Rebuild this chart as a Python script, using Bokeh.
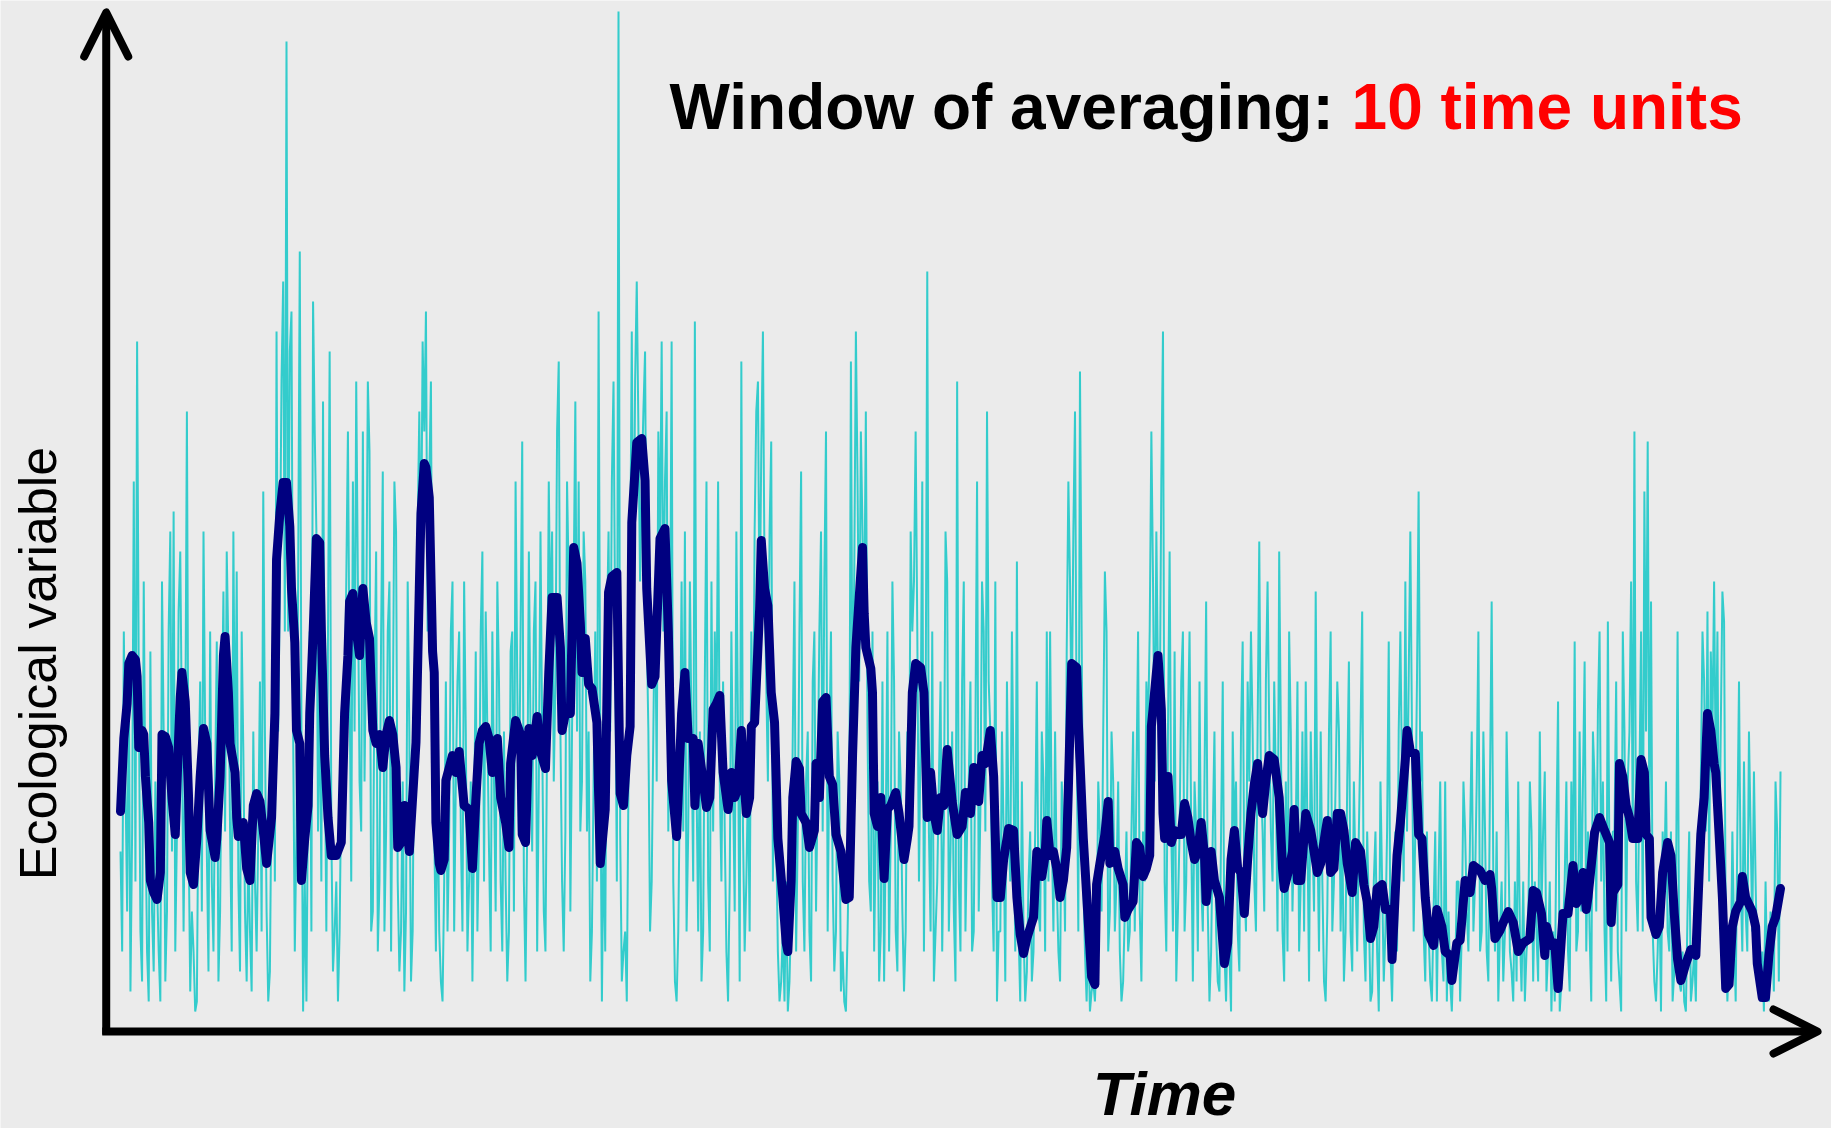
import numpy as np
from bokeh.plotting import figure
from bokeh.models import ColumnDataSource, Range1d, Arrow, OpenHead, Label
from bokeh.embed import file_html
from bokeh.resources import INLINE

# ---------------- data ----------------
# raw series, read at even time steps
raw_even_time = list(range(0, 1001, 2))
raw_even_values = [
    18, 40, 12, 4, 55, 69, 10, 45, 8, 38,
    6, 15, 3, 30, 12, 50, 52, 20, 48, 10,
    62, 4, 8, 3, 35, 50, 18, 40, 8, 39,
    12, 44, 48, 20, 50, 46, 6, 28, 5, 10,
    30, 8, 35, 54, 12, 6, 40, 70, 45, 75,
    99, 68, 30, 20, 78, 2, 3, 40, 73, 50,
    35, 63, 10, 68, 6, 15, 10, 20, 45, 35,
    55, 65, 25, 60, 40, 58, 12, 48, 15, 56,
    20, 45, 30, 50, 6, 25, 12, 30, 10, 40,
    62, 69, 72, 55, 30, 8, 10, 3, 35, 20,
    45, 25, 40, 10, 30, 15, 5, 38, 20, 48,
    42, 18, 40, 12, 35, 8, 15, 10, 40, 55,
    20, 59, 5, 48, 18, 45, 25, 30, 8, 55,
    50, 35, 67, 15, 20, 45, 30, 63, 55, 25,
    45, 30, 10, 40, 72, 3, 8, 50, 55, 40,
    102, 5, 10, 25, 70, 65, 60, 55, 68, 30,
    15, 45, 60, 69, 55, 20, 69, 5, 10, 45,
    50, 20, 30, 71, 10, 5, 35, 15, 45, 40,
    55, 15, 20, 3, 40, 12, 30, 67, 8, 25,
    40, 50, 65, 58, 45, 25, 59, 30, 8, 5,
    3, 2, 12, 45, 20, 56, 8, 30, 5, 40,
    25, 50, 45, 10, 40, 6, 30, 4, 3, 10,
    67, 45, 55, 60, 40, 30, 12, 8, 25, 10,
    5, 40, 20, 35, 6, 25, 4, 30, 50, 45,
    40, 30, 8, 76, 10, 5, 15, 35, 20, 45,
    18, 12, 65, 8, 45, 20, 35, 10, 55, 22,
    40, 62, 30, 8, 3, 10, 20, 35, 15, 25,
    47, 3, 10, 6, 20, 8, 35, 10, 25, 40,
    40, 10, 15, 5, 20, 38, 45, 50, 30, 66,
    15, 3, 2, 5, 8, 20, 30, 40, 12, 25,
    15, 8, 5, 20, 10, 30, 25, 12, 20, 35,
    40, 45, 50, 30, 70, 8, 48, 10, 5, 20,
    40, 15, 40, 5, 20, 35, 10, 43, 3, 20,
    10, 4, 35, 3, 8, 30, 25, 6, 39, 10,
    25, 30, 10, 49, 20, 35, 30, 15, 25, 48,
    10, 25, 40, 12, 20, 8, 30, 35, 5, 20,
    44, 8, 15, 3, 30, 10, 25, 30, 20, 10,
    37, 6, 15, 20, 42, 5, 12, 4, 20, 2,
    15, 10, 39, 3, 20, 30, 25, 45, 35, 30,
    20, 54, 30, 5, 10, 3, 20, 15, 8, 25,
    12, 2, 5, 15, 10, 20, 8, 30, 15, 40,
    10, 20, 5, 43, 8, 3, 15, 10, 20, 6,
    15, 25, 4, 3, 10, 20, 15, 5, 12, 26,
    8, 2, 3, 33, 5, 15, 8, 25, 39, 10,
    12, 37, 20, 3, 25, 32, 15, 10, 41, 5,
    20, 8, 2, 30, 25, 45, 60, 10, 40, 54,
    59, 43, 5, 8, 2, 15, 10, 20, 6, 40,
    4, 3, 12, 3, 8, 15, 25, 35, 42, 38,
    45, 40, 30, 41, 3, 5, 10, 20, 15, 27,
    8, 20, 26, 6, 3, 2, 5, 12, 4, 20, 26,
]
# raw series, read at odd time steps
raw_odd_time = list(range(1, 1000, 2))
raw_odd_values = [
    8, 25, 35, 20, 15, 35, 5, 22, 3, 12,
    25, 8, 45, 5, 40, 18, 8, 42, 30, 28,
    20, 12, 2, 25, 12, 30, 6, 15, 25, 5,
    30, 20, 38, 8, 25, 15, 40, 12, 18, 4,
    15, 20, 10, 30, 3, 25, 15, 30, 65, 40,
    40, 72, 8, 45, 30, 15, 25, 10, 60, 20,
    15, 30, 40, 20, 10, 3, 25, 30, 60, 15,
    30, 45, 20, 25, 65, 10, 35, 8, 40, 10,
    40, 8, 55, 15, 10, 4, 45, 5, 35, 50,
    45, 60, 40, 65, 20, 25, 5, 15, 10, 40,
    10, 35, 20, 45, 8, 25, 20, 10, 40, 15,
    30, 8, 25, 45, 15, 30, 5, 38, 12, 35,
    40, 15, 20, 30, 40, 8, 50, 12, 30, 40,
    25, 60, 30, 8, 55, 12, 45, 30, 20, 50,
    20, 5, 25, 15, 30, 20, 40, 30, 65, 15,
    20, 8, 3, 45, 40, 75, 45, 62, 40, 10,
    30, 25, 48, 40, 62, 35, 15, 3, 25, 20,
    10, 45, 15, 25, 30, 10, 55, 8, 20, 30,
    25, 35, 8, 15, 25, 50, 5, 20, 15, 10,
    25, 62, 40, 70, 35, 50, 15, 20, 3, 10,
    15, 5, 30, 8, 40, 15, 25, 10, 35, 12,
    40, 20, 60, 28, 15, 10, 25, 8, 2, 20,
    30, 70, 35, 50, 62, 15, 40, 20, 5, 35,
    20, 8, 45, 10, 30, 12, 10, 20, 40, 60,
    15, 55, 30, 20, 40, 10, 25, 8, 50, 10,
    30, 5, 15, 35, 10, 25, 8, 30, 12, 45,
    20, 35, 15, 45, 10, 30, 5, 20, 40, 8,
    10, 25, 3, 15, 5, 20, 12, 30, 8, 15,
    20, 30, 8, 25, 10, 55, 30, 62, 10, 40,
    8, 10, 4, 3, 25, 12, 46, 8, 30, 10,
    25, 3, 12, 8, 20, 10, 40, 5, 15, 30,
    60, 25, 35, 55, 15, 30, 20, 38, 12, 35,
    10, 30, 20, 25, 8, 15, 25, 12, 8, 30,
    5, 20, 8, 12, 2, 20, 10, 30, 15, 35,
    40, 15, 30, 25, 12, 45, 20, 35, 10, 30,
    5, 8, 30, 20, 35, 15, 10, 20, 30, 12,
    20, 30, 5, 12, 40, 15, 35, 10, 5, 25,
    10, 25, 8, 30, 10, 20, 3, 15, 8, 25,
    5, 20, 8, 12, 8, 40, 15, 20, 50, 10,
    35, 25, 10, 20, 5, 12, 3, 25, 5, 3,
    5, 8, 15, 3, 25, 12, 20, 10, 25, 8,
    30, 8, 25, 15, 20, 10, 5, 30, 8, 3,
    5, 10, 15, 8, 25, 5, 10, 30, 20, 4,
    15, 10, 20, 2, 10, 25, 4, 15, 8, 30,
    25, 8, 10, 30, 12, 40, 25, 3, 15, 20,
    35, 5, 40, 10, 30, 20, 15, 25, 10, 30,
    20, 10, 3, 15, 20, 25, 8, 3, 12, 5,
    8, 2, 20, 5, 3, 10, 40, 20, 15, 30,
    25, 15, 44, 10, 8, 20, 3, 35, 8, 12,
    30, 10, 15, 4, 8, 15, 3, 10, 25, 5,
]

# moving average (window 10)
smooth_time = [
    0, 2, 4, 5, 7, 9, 10, 11, 13, 14, 15, 17, 18, 20, 22, 24, 25, 27, 29, 31, 33, 35, 36, 37, 39,
    41, 42, 44, 46, 48, 50, 52, 54, 57, 58, 60, 62, 63, 65, 66, 69, 70, 71, 74, 76, 78, 80, 82, 84,
    86, 88, 91, 93, 94, 96, 98, 100, 102, 103, 105, 106, 108, 109, 111, 113, 114, 116, 118, 120,
    121, 123, 125, 127, 130, 133, 135, 137, 138, 140, 142, 144, 146, 148, 150, 152, 154, 156, 158,
    160, 162, 164, 166, 167,
    169, 171, 174, 178, 180, 181, 183, 184, 186, 188, 189, 190, 192, 193, 195, 196, 200, 202, 204,
    207, 210, 212, 214, 216, 218, 220, 222, 224, 227, 229, 232, 234, 235, 238, 241, 242, 244, 246,
    248, 251, 253, 256, 258, 260, 263, 265, 266, 268, 271, 273, 275, 277, 278, 280, 282, 284, 287,
    289, 292, 294, 296, 299, 301, 303, 305, 307, 308, 311, 314, 316, 317, 320, 322, 325, 328, 330,
    332, 335, 338, 340, 342, 345, 346, 348,
    353, 355, 357, 359, 361, 363, 366, 368, 370, 372, 374, 375, 377, 379, 380, 382, 385, 386, 388,
    390, 392, 394, 396, 399, 401, 402, 404, 405, 407, 409, 410, 413, 415, 418, 419, 421, 423, 425,
    427, 429, 431, 434, 437, 439, 441, 443, 445, 447, 448, 449, 452, 453, 454, 456, 458, 460, 462,
    464, 467, 469, 472, 474, 475, 477, 479, 482, 484, 486, 488, 490, 492, 494, 496, 498, 501, 504,
    507, 509, 512, 514, 517, 519, 521, 524, 526, 528,
    530, 532, 535, 538, 540, 542, 544, 546, 549, 550, 552, 555, 557, 558, 560, 562, 564, 566, 568,
    570, 571, 573, 576, 577, 580, 583, 585, 587, 588, 590, 593, 595, 596, 599, 601, 604, 605, 607,
    610, 612, 614, 616, 618, 620, 621, 622, 625, 627, 628, 629, 631, 633, 635, 637, 639, 641, 643,
    645, 647, 649, 651, 653, 654, 657, 659, 662, 665, 667, 669, 671, 673, 675, 677, 679, 681, 683,
    685, 688, 690, 692, 695, 698, 700, 701, 704, 706, 707, 709,
    711, 714, 717, 719, 721, 723, 726, 727, 729, 731, 733, 735, 737, 739, 742, 744, 747, 749, 751,
    753, 755, 757, 760, 762, 765, 766, 769, 771, 774, 775, 777, 780, 782, 784, 786, 788, 791, 793,
    796, 798, 801, 802, 805, 807, 810, 813, 815, 819, 822, 825, 826, 828, 831, 833, 836, 839, 842,
    845, 849, 851, 853, 856, 858, 859, 862, 864, 866, 869, 872, 875, 877, 879, 881, 883, 884,
    888, 891, 894, 897, 898, 899, 902, 903, 905, 907, 909, 911, 914, 916, 918, 919, 921, 922, 925,
    927, 929, 932, 934, 936, 938, 940, 943, 946, 949, 951, 952, 954, 956, 958, 960, 961, 963, 965,
    967, 969, 971, 973, 976, 977, 979, 983, 985, 986, 989, 991, 993, 995, 997, 1000,
]
smooth_values = [
    22.0, 29.3, 32.8, 36.8, 37.6, 37.2, 35.5, 28.4, 30.1, 29.7, 25.5, 20.9, 15.1, 13.9, 13.2, 15.9,
    29.7, 29.5, 28.4, 23.4, 19.7, 29.3, 33.4, 35.9, 33.0,
    23.4, 15.9, 14.7, 19.3, 25.5, 30.3, 28.8, 20.1, 17.4, 19.3, 25.5, 37.6, 39.5, 33.9, 28.8, 25.9,
    21.4, 19.5, 20.9, 16.3, 15.1, 22.6, 23.8, 23.0,
    20.1, 16.8, 21.4, 31.8, 47.2, 51.8, 54.9, 54.9, 50.5, 44.3, 38.9, 30.1, 28.8, 15.1, 19.3, 22.6,
    31.8, 39.7, 49.3, 48.9,
    40.1, 27.6, 21.4, 17.6, 17.6, 18.9, 31.8, 37.6, 43.0, 43.8, 40.1, 37.6, 44.3, 40.9, 39.3, 30.1,
    28.8, 29.7, 26.4,
    29.7, 31.1, 29.7, 26.4, 18.4,
    18.9, 22.6, 18.0, 28.9, 44.3, 51.8, 56.8, 56.4, 53.4, 38.0, 35.9, 20.9, 16.8, 16.1, 17.2, 25.1,
    27.6, 25.9, 28.0,
    22.6, 22.2, 16.3, 23.0, 28.8, 30.1, 30.5, 29.3, 25.9, 29.3, 23.4, 20.9, 18.4, 26.8, 31.1, 29.7,
    19.7, 18.9, 30.3,
    27.6, 31.5, 28.0, 26.3, 35.9, 43.4, 43.4, 38.4, 30.1, 31.8, 31.8, 48.4, 46.8, 40.9, 35.9, 39.3,
    34.7, 34.3, 30.9,
    16.8, 22.2, 43.9, 45.5, 45.9, 23.8, 22.6, 27.6, 30.5, 50.9, 58.9, 59.3, 55.1, 44.3, 34.7, 35.5,
    49.3, 50.3, 40.1,
    25.1, 19.5, 31.8, 35.9, 29.3, 29.3, 22.6, 28.8,
    22.4, 23.4, 32.2, 32.8, 33.6, 25.9, 22.2, 25.9, 23.4, 24.3, 30.1, 26.8, 21.8, 23.4, 30.5, 30.9,
    42.2, 49.1, 44.3,
    42.6, 33.9, 30.9, 19.3, 13.4, 8.85, 8.0, 15.1, 23.4, 27.0, 26.3, 21.8, 20.9, 18.4, 20.1, 26.8,
    23.4, 33.0, 33.4,
    25.5, 24.7, 19.7, 18.0, 13.2, 13.4, 27.6, 38.4, 43.4, 48.4, 41.8, 38.4, 36.3, 33.9, 21.8, 20.5,
    23.4, 15.3, 22.2,
    22.6, 23.9, 21.8, 17.2, 19.3, 20.5, 33.9, 36.8, 36.4, 33.9, 21.4, 25.9, 21.8, 20.1, 23.4, 22.6,
    28.2, 23.0, 19.7,
    20.5, 23.9, 21.8, 26.4, 23.0, 27.6, 26.8, 30.1, 25.5, 13.4,
    13.4, 17.2, 20.3, 20.1, 13.4, 9.7, 7.8, 9.3, 10.9, 11.4, 18.0, 15.5, 17.6, 21.1, 17.6, 18.0,
    16.3, 13.4, 15.1,
    18.4, 24.3, 36.8, 36.4, 30.9, 19.3, 10.9, 5.5, 4.7, 14.7, 16.8, 19.7, 23.0, 16.8, 18.0, 16.3,
    14.7, 11.4, 12.2,
    13.0, 18.9, 18.4, 15.5, 16.3, 17.6, 30.5, 32.2, 37.6, 32.2, 21.8, 19.3, 25.5, 18.9, 20.1, 19.7,
    19.7, 22.8, 21.4,
    18.9, 17.2, 18.0, 20.9, 17.6, 13.0, 18.0, 15.1, 13.4, 6.8, 8.85, 17.2, 20.1, 16.3, 15.9, 11.8,
    17.2, 21.8, 24.7,
    26.8, 21.8, 25.1, 27.6, 27.2, 23.4, 16.3, 14.3, 16.3, 18.0, 22.2, 15.1,
    15.1, 21.8, 20.1, 18.0, 15.9, 16.8, 20.1, 21.1, 15.9, 16.3, 21.8, 21.8, 20.1, 16.8, 13.9, 18.9,
    18.0, 14.7, 13.0,
    9.3, 10.5, 14.3, 14.7, 12.2, 12.2, 7.2, 17.6, 20.9, 27.2, 30.1, 28.0, 27.8, 19.7, 19.3, 13.4,
    9.7, 8.6, 12.2,
    10.5, 8.0, 7.6, 5.1, 8.85, 9.1, 15.1, 13.9, 16.6, 16.1, 15.1, 15.7, 14.3, 9.3, 10.1, 10.9, 12.0,
    10.9, 8.0,
    8.85, 9.3, 14.1, 13.9, 11.8, 7.6, 10.5, 8.6, 8.85, 4.3, 11.8, 11.8, 16.6, 12.8, 13.4, 15.9, 12.2,
    13.4,
    19.9, 21.4, 20.1, 18.9, 10.9, 13.9, 14.7, 26.8, 25.5, 22.6, 21.4, 19.3, 19.3, 27.2, 25.9, 19.7,
    19.3, 11.4, 9.7,
    10.5, 15.9, 18.9, 17.6, 11.8, 7.2, 5.1, 6.8, 8.2, 7.6, 15.9, 19.7, 23.4, 31.8, 30.1, 26.8, 25.9,
    19.7, 13.4,
    4.3, 4.7, 10.5, 12.0, 13.0, 15.5, 13.4, 12.0, 10.5, 6.8, 3.4, 3.4, 7.6, 10.5, 11.4, 14.3,
]

title_black = "Window of averaging:"
title_red = "10 time units"
x_label = "Time"
y_label = "Ecological variable"

assert len(raw_even_time) == len(raw_even_values)
assert len(raw_odd_time) == len(raw_odd_values)
assert len(smooth_time) == len(smooth_values)

# merge the two hand-read raw lists into one time-ordered series
raw_pairs = sorted(zip(raw_even_time + raw_odd_time, raw_even_values + raw_odd_values))
raw_time = [a for a, b in raw_pairs]
raw_values = [b for a, b in raw_pairs]

# ---------------- figure ----------------
BG = "#EBEBEB"
p = figure(width=1831, height=1128, output_backend="svg", toolbar_location=None,
           x_range=Range1d(-72.29, 1030.72), y_range=Range1d(-9.7, 103.1),
           min_border=0, background_fill_color=BG, border_fill_color=BG,
           outline_line_color=None)
p.axis.visible = False
p.grid.visible = False

raw_src = ColumnDataSource(dict(t=raw_time, v=raw_values))
sm_src = ColumnDataSource(dict(t=smooth_time, v=smooth_values))

p.line("t", "v", source=raw_src, line_color="#33CCCC", line_width=2)
p.line("t", "v", source=sm_src, line_color="#000080", line_width=9,
       line_join="round", line_cap="round")

# axes drawn as arrows
x0 = -8.6
p.add_layout(Arrow(x_start=x0, y_start=-0.3, x_end=x0, y_end=101.9,
                   line_color="black", line_width=8,
                   end=OpenHead(size=44, line_width=8, line_color="black",
                                line_cap="round", line_join="round")))
p.add_layout(Arrow(x_start=x0 - 2.4, y_start=0, x_end=1022.3, y_end=0,
                   line_color="black", line_width=8,
                   end=OpenHead(size=44, line_width=8, line_color="black",
                                line_cap="round", line_join="round")))

# texts
p.add_layout(Label(x=330.7, y=92.5, text=title_black, text_font="Liberation Sans",
                   text_font_style="bold", text_font_size="64px", text_color="black",
                   text_baseline="alphabetic", text_align="left"))
p.add_layout(Label(x=741.6, y=92.5, text=title_red, text_font="Liberation Sans",
                   text_font_style="bold", text_font_size="64px", text_color="#FF0000",
                   text_baseline="alphabetic", text_align="left"))
p.add_layout(Label(x=628.9, y=-6.2, text=x_label, text_font="Liberation Sans",
                   text_font_style="bold italic", text_font_size="62px", text_color="black",
                   text_baseline="alphabetic", text_align="center"))
p.add_layout(Label(x=-49.4, y=36.8, text=y_label, text_font="Liberation Sans",
                   text_font_size="52px", text_color="black", angle=np.pi / 2,
                   text_baseline="alphabetic", text_align="center"))

html = file_html(p, INLINE)
html = html.replace("<body>", '<body style="background-color:%s;">' % BG, 1)
open("out.html", "w").write(html)
